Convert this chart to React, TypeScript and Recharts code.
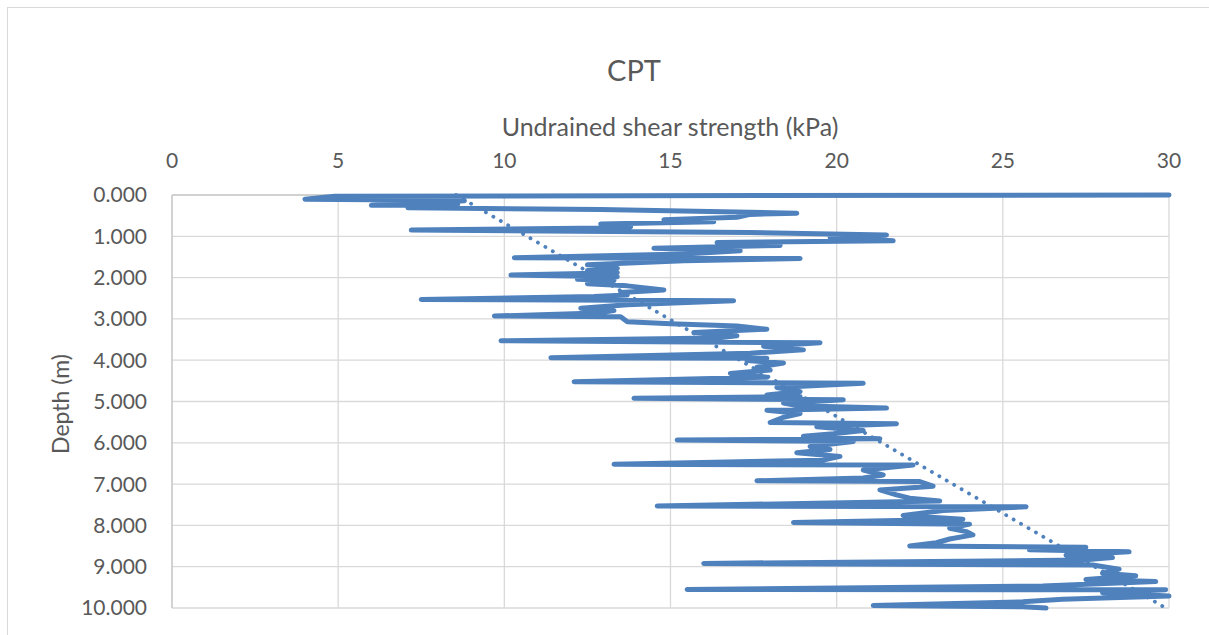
import { ScatterChart, Scatter, XAxis, YAxis, CartesianGrid } from 'recharts';

// CPT profile: depth (m) and undrained shear strength (kPa), in recorded order
const depth = [
  0.0, 0.03, 0.1, 0.13, 0.14, 0.25, 0.22, 0.31, 0.35, 0.44, 0.47, 0.54, 0.6, 0.65, 0.7, 0.77, 0.8, 0.85,
  0.91, 0.97, 1.02, 1.11, 1.15, 1.22, 1.29, 1.35, 1.43, 1.52, 1.54, 1.59, 1.69, 1.74, 1.78, 1.83, 1.88,
  1.94, 1.98, 2.04, 2.07, 2.15, 2.2, 2.3, 2.36, 2.42, 2.46, 2.53, 2.56, 2.66, 2.74, 2.8, 2.86, 2.93,
  2.95, 3.07, 3.12, 3.17, 3.25, 3.33, 3.41, 3.46, 3.53, 3.58, 3.66, 3.75, 3.83, 3.94, 3.95, 4.01, 4.07,
  4.17, 4.24, 4.32, 4.41, 4.52, 4.56, 4.66, 4.76, 4.84, 4.88, 4.92, 4.96, 5.04, 5.1, 5.16, 5.21, 5.29,
  5.38, 5.51, 5.54, 5.61, 5.7, 5.78, 5.84, 5.9, 5.93, 5.97, 6.09, 6.16, 6.24, 6.33, 6.42, 6.52, 6.54,
  6.66, 6.78, 6.85, 6.92, 6.94, 7.05, 7.14, 7.26, 7.34, 7.41, 7.53, 7.55, 7.64, 7.76, 7.85, 7.93, 7.97,
  8.07, 8.15, 8.23, 8.33, 8.42, 8.5, 8.53, 8.59, 8.64, 8.72, 8.78, 8.84, 8.92, 8.96, 9.06, 9.16, 9.22,
  9.31, 9.36, 9.47, 9.55, 9.56, 9.63, 9.71, 9.79, 9.85, 9.94, 9.97, 10.0,
];
const strength = [
  30.0, 4.9, 4.0, 8.1, 8.8, 6.0, 8.6, 7.1, 12.9, 18.8, 17.4, 17.0, 14.8, 16.3, 12.9, 13.8, 13.0, 7.2,
  17.4, 21.5, 19.8, 21.7, 16.4, 18.3, 14.5, 17.1, 15.4, 10.3, 18.9, 15.4, 12.5, 13.2, 13.4, 12.5, 13.4,
  10.2, 13.4, 12.2, 13.3, 12.5, 13.7, 14.8, 13.5, 13.7, 12.7, 7.5, 16.9, 13.7, 12.3, 13.3, 12.8, 9.7,
  13.5, 13.7, 15.0, 17.0, 17.9, 15.7, 17.0, 16.4, 9.9, 19.5, 17.8, 19.0, 17.4, 11.4, 17.9, 17.3, 18.4,
  17.6, 18.0, 16.8, 17.9, 12.1, 20.8, 18.2, 18.9, 17.9, 18.9, 13.9, 20.2, 18.4, 18.8, 21.5, 17.9, 18.9,
  18.4, 18.0, 21.8, 19.4, 20.8, 19.9, 19.0, 21.3, 15.2, 20.5, 19.2, 19.8, 18.8, 20.1, 19.6, 13.3, 22.3,
  20.8, 21.4, 20.8, 17.6, 22.5, 22.9, 21.3, 21.8, 22.2, 23.1, 14.6, 25.7, 23.2, 22.0, 23.8, 18.7, 24.0,
  23.4, 23.9, 24.1, 23.4, 23.0, 22.2, 27.5, 25.8, 28.8, 26.9, 28.3, 27.4, 16.0, 27.7, 28.5, 28.0, 29.0,
  27.5, 29.6, 26.2, 15.5, 29.9, 28.0, 30.0, 26.8, 25.6, 21.1, 25.6, 26.3,
];

// linear trend line end points
const trendDepth = [0, 10];
const trendStrength = [8.55, 29.9];

const xTicks = [0, 5, 10, 15, 20, 25, 30];
const yTicks = [0, 1, 2, 3, 4, 5, 6, 7, 8, 9, 10];

const profile = depth.map((d, i) => ({ depth: d, su: strength[i] }));
const trend = trendDepth.map((d, i) => ({ depth: d, su: trendStrength[i] }));

const BLUE = '#4f81bd';
const TEXT = '#595959';
const FONT = 'Lato, "Open Sans", sans-serif';

const noDot = () => <g />;

export default function App() {
  return (
    <div
      style={{
        position: 'absolute',
        left: 0,
        top: 0,
        width: 1209,
        height: 635,
        overflow: 'hidden',
        background: '#fff',
        fontFamily: FONT,
      }}
    >
      <div
        style={{
          position: 'absolute',
          left: 7,
          top: 7,
          width: 1230,
          height: 660,
          border: '1px solid #d9d9d9',
        }}
      />
      <div
        style={{
          position: 'absolute',
          left: 534,
          width: 200,
          top: 52,
          textAlign: 'center',
          fontSize: 29,
          color: TEXT,
        }}
      >
        CPT
      </div>
      <div
        style={{
          position: 'absolute',
          left: 420,
          width: 500,
          top: 111,
          textAlign: 'center',
          fontSize: 25,
          color: TEXT,
        }}
      >
        Undrained shear strength (kPa)
      </div>
      <div
        style={{
          position: 'absolute',
          left: 60,
          top: 404,
          transform: 'translate(-50%, -50%) rotate(-90deg)',
          whiteSpace: 'nowrap',
          fontSize: 23,
          color: TEXT,
        }}
      >
        Depth (m)
      </div>
      <div style={{ position: 'absolute', left: 0, top: 0 }}>
        <ScatterChart
          width={1209}
          height={635}
          margin={{ top: 165, right: 40, bottom: 27, left: 72 }}
          style={{ fontFamily: FONT }}
        >
          <CartesianGrid stroke="#d9d9d9" strokeWidth={1.3} />
          <XAxis
            type="number"
            dataKey="su"
            orientation="top"
            domain={[0, 30]}
            ticks={xTicks}
            height={30}
            tickLine={false}
            tickMargin={21}
            axisLine={{ stroke: '#bfbfbf' }}
            tick={{ fill: TEXT, fontSize: 21 }}
          />
          <YAxis
            type="number"
            dataKey="depth"
            reversed
            domain={[0, 10]}
            ticks={yTicks}
            width={100}
            tickLine={false}
            tickMargin={19}
            axisLine={{ stroke: '#bfbfbf' }}
            tick={{ fill: TEXT, fontSize: 21 }}
            tickFormatter={(v: number) => v.toFixed(3)}
          />
          <Scatter
            data={profile}
            shape={noDot}
            line={{ stroke: BLUE, strokeWidth: 5, strokeLinejoin: 'round', strokeLinecap: 'round' }}
            lineType="joint"
            isAnimationActive={false}
          />
          <Scatter
            data={trend}
            shape={noDot}
            line={{ stroke: BLUE, strokeWidth: 3.8, strokeDasharray: '0.1 8.5', strokeLinecap: 'round' }}
            lineType="joint"
            isAnimationActive={false}
          />
        </ScatterChart>
      </div>
    </div>
  );
}
